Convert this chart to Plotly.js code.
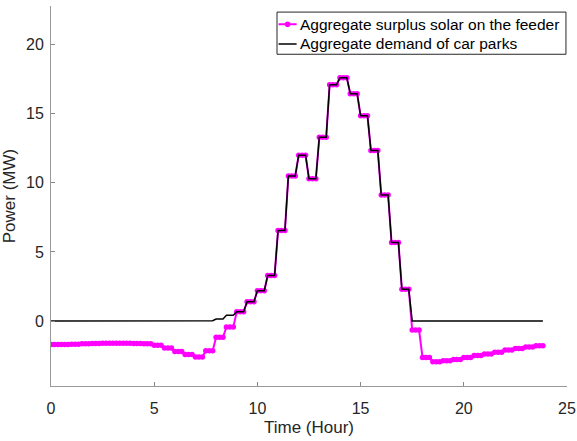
<!DOCTYPE html>
<html>
<head>
<meta charset="utf-8">
<script src="https://cdn.plot.ly/plotly-3.0.1.min.js"></script>
<style>html,body{margin:0;padding:0;background:#fff;}#chart{width:577px;height:441px;}</style>
</head>
<body>
<div id="chart"></div>
<script>
// Half-hourly values (MW), starting at 0:00, each held for three 10-minute samples
var surplusHalfHour = [
  -1.70, -1.69, -1.67, -1.65, -1.63, -1.60, -1.60, -1.61, -1.62, -1.64,
  -1.75, -1.95, -2.20, -2.42, -2.60, -2.15, -1.17, -0.43, 0.68, 1.40,
  2.20, 3.30, 6.55, 10.50, 12.00, 10.30, 13.30, 17.10, 17.60, 16.45,
  14.85, 12.35, 9.12, 5.68, 2.30, -0.65, -2.63, -2.95, -2.88, -2.78,
  -2.64, -2.50, -2.38, -2.25, -2.10, -1.98, -1.88, -1.78
];
var demandHalfHour = [
  0, 0, 0, 0, 0, 0, 0, 0, 0, 0,
  0, 0, 0, 0, 0, 0.03, 0.15, 0.42, 0.68, 1.40,
  2.20, 3.30, 6.55, 10.50, 12.00, 10.30, 13.30, 17.10, 17.60, 16.45,
  14.85, 12.35, 9.12, 5.68, 2.30, 0, 0, 0, 0, 0,
  0, 0, 0, 0, 0, 0, 0, 0
];
var seriesNames = ["Aggregate surplus solar on the feeder", "Aggregate demand of car parks"];
var xTickVals = [0, 5, 10, 15, 20, 25];
var yTickVals = [0, 5, 10, 15, 20];

var samplesPerHalfHour = 3;
var t = [], surplus = [], demand = [];
for (var i = 0; i < surplusHalfHour.length * samplesPerHalfHour; i++) {
  t.push(i / 6);
  surplus.push(surplusHalfHour[Math.floor(i / samplesPerHalfHour)]);
  demand.push(demandHalfHour[Math.floor(i / samplesPerHalfHour)]);
}

var font = "Liberation Sans, Arial, Helvetica, sans-serif";
var magenta = "#ff00ff";
var traces = [
  {x: t, y: surplus, name: seriesNames[0], type: "scatter", mode: "lines+markers",
   line: {color: magenta, width: 2}, marker: {color: magenta, size: 5.5, symbol: "circle"}},
  {x: t, y: demand, name: seriesNames[1], type: "scatter", mode: "lines",
   line: {color: "#000000", width: 1.5}}
];

// manual legend (MATLAB style: short sample, text close to it)
var legX0 = 0.438, legX1 = 0.998, legY0 = 0.873, legY1 = 0.984;
var row1 = 0.952, row2 = 0.900;
var symX0 = 0.441, symX1 = 0.476, txtX = 0.479;
var shapes = [
  {type: "rect", xref: "paper", yref: "paper", x0: legX0, x1: legX1, y0: legY0, y1: legY1,
   line: {color: "#262626", width: 1}, fillcolor: "#fff", layer: "above"},
  {type: "line", xref: "paper", yref: "paper", x0: symX0, x1: symX1, y0: row1, y1: row1,
   line: {color: magenta, width: 2}, layer: "above"},
  {type: "circle", xref: "paper", yref: "paper", xsizemode: "pixel", ysizemode: "pixel",
   xanchor: (symX0 + symX1) / 2, yanchor: row1, x0: -2.8, x1: 2.8, y0: -2.8, y1: 2.8,
   fillcolor: magenta, line: {color: magenta, width: 0}, layer: "above"},
  {type: "line", xref: "paper", yref: "paper", x0: symX0, x1: symX1, y0: row2, y1: row2,
   line: {color: "#000", width: 1.5}, layer: "above"}
];
var annotations = [
  {xref: "paper", yref: "paper", x: txtX, y: row1, xanchor: "left", yanchor: "middle",
   text: seriesNames[0], showarrow: false, font: {family: font, size: 15.5, color: "#000"}},
  {xref: "paper", yref: "paper", x: txtX, y: row2, xanchor: "left", yanchor: "middle",
   text: seriesNames[1], showarrow: false, font: {family: font, size: 15.5, color: "#000"}}
];

var layout = {
  width: 577, height: 441,
  margin: {l: 51, r: 10, t: 6, b: 55},
  paper_bgcolor: "#fff", plot_bgcolor: "#fff",
  font: {family: font, size: 15, color: "#262626"},
  showlegend: false,
  shapes: shapes,
  annotations: annotations,
  xaxis: {range: [0, 25], tickvals: xTickVals, ticks: "inside", ticklen: 4,
    tickcolor: "#888", showline: true, linecolor: "#999", linewidth: 1,
    showgrid: false, zeroline: false, mirror: false, ticklabelstandoff: 8,
    tickfont: {size: 16},
    title: {text: "Time (Hour)", font: {size: 17, color: "#262626"}, standoff: 4}},
  yaxis: {range: [-4.7, 22.8], tickvals: yTickVals, ticks: "inside", ticklen: 4,
    tickcolor: "#888", showline: true, linecolor: "#999", linewidth: 1,
    showgrid: false, zeroline: false, mirror: false, ticklabelstandoff: 3,
    tickfont: {size: 16},
    title: {text: "Power (MW)", font: {size: 17, color: "#262626"}, standoff: 6}}
};
Plotly.newPlot("chart", traces, layout, {displayModeBar: false, staticPlot: true});
</script>
</body>
</html>
